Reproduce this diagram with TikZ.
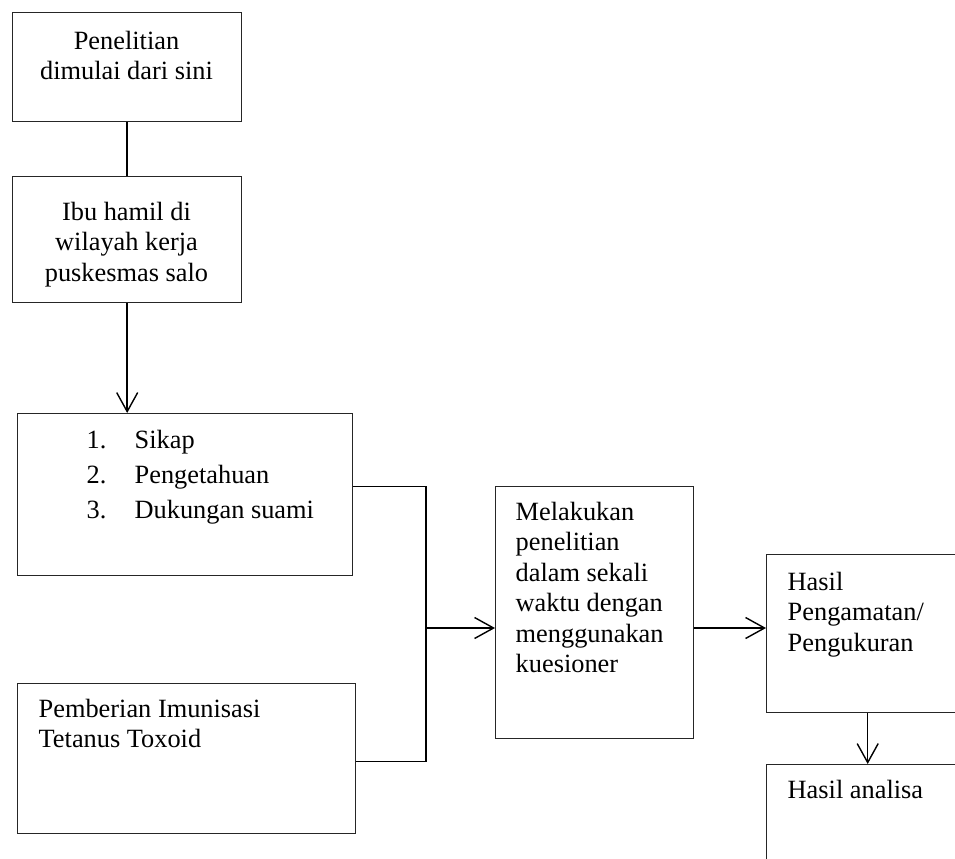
\documentclass[tikz,border=0pt]{standalone}
\usepackage{fontspec}
\setmainfont{Liberation Serif}
\usetikzlibrary{arrows.meta,positioning,calc}

\begin{document}
\begin{tikzpicture}[x=0.02cm, y=-0.02cm, line width=0.8pt,
     box/.style={draw=black!85, inner sep=0pt, anchor=north west},
     txt/.style={inner sep=0pt, anchor=north west, align=left,
       font=\fontsize{15}{17.3}\selectfont},
     pointer/.style={-{Straight Barb[length=0.38cm, width=0.42cm]}}]
    \useasboundingbox (0,0) rectangle (955,858);
    % boxes
    \node[box, minimum width=4.58cm, minimum height=2.18cm] (mulai) at (12,12) {};
    \node[box, minimum width=4.58cm, minimum height=2.52cm] (ibu) at (12,176) {};
    \node[box, minimum width=6.70cm, minimum height=3.24cm] (faktor) at (17,413) {};
    \node[box, minimum width=6.76cm, minimum height=3.00cm] (imunisasi) at (17,683) {};
    \node[box, minimum width=3.96cm, minimum height=5.04cm] (kuesioner) at (495,486) {};
    \node[box, minimum width=4.48cm, minimum height=3.16cm] (hasil) at (766,554) {};
    \node[box, minimum width=4.48cm, minimum height=2.72cm] (analisa) at (766,764) {};
    % texts
    \node[txt, anchor=north, align=center] (mulaitxt) at (126.5,27.6) {\strut Penelitian\\dimulai dari sini};
    \node[txt, anchor=north, align=center] (ibutxt) at (126.5,198.6) {\strut Ibu hamil di\\wilayah kerja\\puskesmas salo};
    \node[txt, font=\fontsize{15}{19.9}\selectfont] (faktortxt) at (86,423.4)
      {\strut\makebox[0.96cm][l]{1.}Sikap\\\makebox[0.96cm][l]{2.}Pengetahuan\\\makebox[0.96cm][l]{3.}Dukungan suami};
    \node[txt] (imunisasitxt) at (38,695.6) {\strut Pemberian Imunisasi\\Tetanus Toxoid};
    \node[txt] (kuesionertxt) at (515,498.6) {\strut Melakukan\\penelitian\\dalam sekali\\waktu dengan\\menggunakan\\kuesioner};
    \node[txt] (hasiltxt) at (787,568.6) {\strut Hasil\\Pengamatan/\\Pengukuran};
    \node[txt] (analisatxt) at (787,776.6) {\strut Hasil analisa};
    % connectors
    \coordinate (join) at (426,628);
    \draw (mulai.south) -- (ibu.north);
    \draw[pointer] (ibu.south) -- (ibu.south |- faktor.north);
    \draw ([yshift=0.16cm]faktor.east) -| (join) |- ([yshift=-0.06cm]imunisasi.east);
    \draw[pointer] (join) -- (join -| kuesioner.west);
    \draw[pointer] (join -| kuesioner.east) -- (join -| hasil.west);
    \draw[pointer] ([xshift=-0.22cm]hasil.south) -- ([xshift=-0.22cm]analisa.north);
\end{tikzpicture}
\end{document}
